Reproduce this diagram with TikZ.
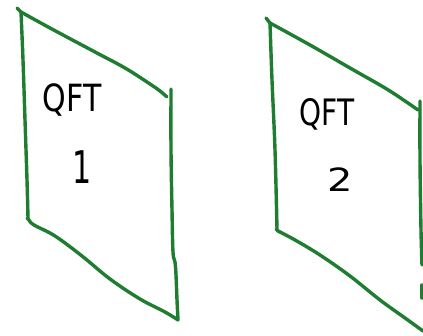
\documentclass[tikz,border=0pt]{standalone}
\usepackage{fontspec}
\setmainfont{DejaVu Sans}
\definecolor{pen}{RGB}{30,125,48}
\tikzset{
  stroke/.style={draw=pen, line width=3.4pt, line cap=round, line join=round},
  label/.style={text=black, inner sep=0pt, transform shape}
}
\begin{document}
\begin{tikzpicture}[x=1pt,y=-1pt]
\useasboundingbox (0,0) rectangle (423,336);
% left sheet
\coordinate (a1) at (21,12);
\coordinate (a2) at (167,97);
\coordinate (a3) at (178,320);
\coordinate (a4) at (29,220);
\draw[stroke] (17,8) -- (a1);
\draw[stroke] plot[smooth, tension=0.6] coordinates {(a1) (50,28) (95,52) (125,68) (150,84) (160,91) (a2)};
\draw[stroke] plot[smooth, tension=0.6] coordinates {(171,89) (171,150) (172,210) (173,252) (175,262) (176,275) (177,300) (a3)};
\draw[stroke] plot[smooth, tension=0.6] coordinates {(a3) (165,312) (140,299) (110,279) (82,256) (55,236) (34,225) (a4)};
\draw[stroke] (a4) -- (27,218);
\draw[stroke] plot[smooth, tension=0.6] coordinates {(a1) (23,60) (25,120) (27,180) (28,218)};
% right sheet
\coordinate (b1) at (270,23);
\coordinate (b2) at (418,110);
\coordinate (b3) at (423,331);
\coordinate (b4) at (278,231);
\draw[stroke] (266,18) -- (b1);
\draw[stroke] plot[smooth, tension=0.6] coordinates {(b1) (310,45) (350,68) (385,88) (405,101) (b2)};
\draw[stroke] plot[smooth, tension=0.6] coordinates {(420,101) (420,160) (421,230) (422,265)};
\draw[stroke] (422,285) -- (422,298);
\draw[stroke] plot[smooth, tension=0.6] coordinates {(b4) (295,240) (320,255) (350,276) (380,300) (405,318) (b3)};
\draw[stroke] (b4) -- (276,229);
\draw[stroke] plot[smooth, tension=0.6] coordinates {(b1) (272,80) (275,150) (277,229)};
% labels
\node[label, font=\fontsize{30}{30}\selectfont, yscale=1.25] (q1) at (72,100) {QFT};
\node[label, font=\fontsize{30}{30}\selectfont, yscale=1.5] (n1) at (82,167) {1};
\node[label, font=\fontsize{28}{28}\selectfont, yscale=1.3] (q2) at (327,114) {QFT};
\node[label, font=\fontsize{40}{40}\selectfont, yscale=0.8] (n2) at (340,180) {2};
\end{tikzpicture}
\end{document}
